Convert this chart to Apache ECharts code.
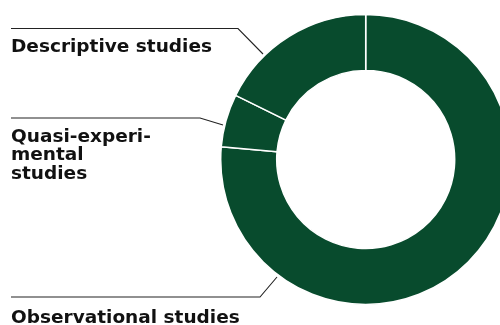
<!DOCTYPE html>
<html><head><meta charset="utf-8">
<script src="https://cdn.jsdelivr.net/npm/echarts@6/dist/echarts.min.js"></script>
<style>html,body{margin:0;padding:0;background:#fff}#c{width:500px;height:325px}</style>
</head><body><div id="c"></div>
<script>
const categories = ['Observational studies', 'Quasi-experi-\nmental\nstudies', 'Descriptive studies'];
const values = [76.4, 5.9, 17.7];

// annotation layout (label text position, leader line points)
const labelPos = [
  { x: 11, y: 318, line: [[11, 297], [260, 297], [277, 277]] },
  { x: 11, y: 155.5, line: [[11, 118], [200, 118], [223, 125]] },
  { x: 11, y: 47.5,  line: [[11, 28.5], [238, 28.5], [263, 54]] }
];

const chart = echarts.init(document.getElementById('c'), null, { renderer: 'canvas' });
chart.setOption({
  animation: false,
  series: [{
    type: 'pie',
    center: [365.7, 159.5],
    radius: [89, 145],
    startAngle: 90,
    clockwise: true,
    silent: true,
    avoidLabelOverlap: false,
    emphasis: { disabled: true },
    itemStyle: { color: '#084b2d', borderColor: '#fff', borderWidth: 1.5 },
    label: {
      show: true,
      formatter: '{b}',
      fontFamily: 'DejaVu Sans',
      fontWeight: 'bold',
      fontSize: 18.5,
      lineHeight: 18.5,
      color: '#111',
      align: 'left',
      width: 300,
      overflow: 'none'
    },
    labelLine: { show: true, lineStyle: { color: '#222', width: 1.1 } },
    labelLayout: function (p) {
      const L = labelPos[p.dataIndex];
      return { x: L.x, y: L.y, align: 'left', verticalAlign: 'middle', labelLinePoints: L.line };
    },
    data: categories.map((n, i) => ({ name: n, value: values[i] }))
  }]
});
</script></body></html>
